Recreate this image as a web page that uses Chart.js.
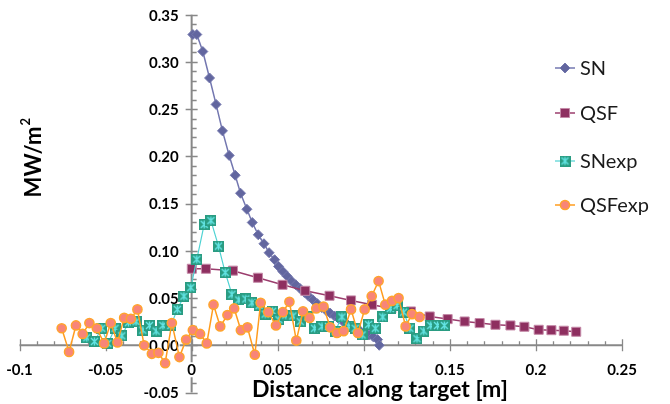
<!DOCTYPE html>
<html>
<head>
<meta charset="utf-8">
<script src="https://cdn.jsdelivr.net/npm/chart.js@4.4.0/dist/chart.umd.min.js"></script>
<style>
  html, body { margin: 0; padding: 0; background: #fff; }
</style>
</head>
<body>
<canvas id="fluxChart" width="670" height="404"></canvas>
<script>
// series
const seriesNames = ['SN', 'QSF', 'SNexp', 'QSFexp'];

const snX = [0.0007, 0.003, 0.0065, 0.0104, 0.0142, 0.0179, 0.0218, 0.0253, 0.0284, 0.0321, 0.0352, 0.0387, 0.042, 0.045, 0.0482, 0.0505, 0.053, 0.0555, 0.058, 0.0605, 0.063, 0.0655, 0.068, 0.0705, 0.073, 0.0755, 0.078, 0.0805, 0.083, 0.0855, 0.088, 0.0905, 0.093, 0.0955, 0.098, 0.1005, 0.103, 0.1055, 0.108, 0.109];
const snY = [0.329, 0.329, 0.311, 0.283, 0.255, 0.227, 0.201, 0.180, 0.161, 0.144, 0.130, 0.117, 0.1075, 0.098, 0.0906, 0.0835, 0.078, 0.073, 0.068, 0.064, 0.060, 0.056, 0.052, 0.048, 0.044, 0.040, 0.037, 0.034, 0.031, 0.028, 0.025, 0.022, 0.020, 0.018, 0.015, 0.013, 0.011, 0.009, 0.006, 0.000];

const qsfX = [0.0001, 0.0083, 0.024, 0.0385, 0.0528, 0.066, 0.0801, 0.0926, 0.1048, 0.116, 0.1274, 0.1383, 0.1487, 0.1586, 0.1673, 0.1765, 0.1852, 0.1933, 0.2016, 0.209, 0.2162, 0.2234];
const qsfY = [0.081, 0.081, 0.079, 0.0715, 0.064, 0.0577, 0.0524, 0.0475, 0.0429, 0.039, 0.0358, 0.0305, 0.0277, 0.0252, 0.0235, 0.0217, 0.021, 0.0196, 0.0164, 0.016, 0.0154, 0.0143];

const snexpX = [-0.0609, -0.0565, -0.0522, -0.0487, -0.0445, -0.0406, -0.0367, -0.0323, -0.0284, -0.0245, -0.0206, -0.0167, -0.0121, -0.0083, -0.0045, -0.0005, 0.003, 0.0073, 0.0112, 0.0156, 0.0195, 0.0234, 0.0274, 0.0315, 0.035, 0.0392, 0.0427, 0.047, 0.0507, 0.0547, 0.0588, 0.0631, 0.0675, 0.0714, 0.0757, 0.0795, 0.0834, 0.0873, 0.0912, 0.095, 0.099, 0.1028, 0.1067, 0.111, 0.1154, 0.1193, 0.1231, 0.1268, 0.1309, 0.1348, 0.1389, 0.1428, 0.1468];
const snexpY = [0.008, 0.004, 0.018, 0.002, 0.018, 0.010, 0.024, 0.025, 0.016, 0.021, 0.015, 0.021, 0.021, 0.038, 0.052, 0.061, 0.091, 0.128, 0.132, 0.105, 0.077, 0.054, 0.048, 0.049, 0.045, 0.042, 0.033, 0.036, 0.027, 0.032, 0.031, 0.025, 0.030, 0.018, 0.020, 0.020, 0.015, 0.030, 0.020, 0.018, 0.011, 0.022, 0.018, 0.030, 0.039, 0.042, 0.035, 0.018, 0.007, 0.015, 0.021, 0.021, 0.021];

const qsfexpX = [-0.0755, -0.0712, -0.0672, -0.0633, -0.0594, -0.0551, -0.0509, -0.047, -0.0431, -0.0392, -0.0353, -0.0315, -0.0276, -0.0231, -0.0193, -0.0154, -0.0115, -0.0071, -0.0032, 0.0007, 0.0049, 0.0088, 0.0127, 0.0166, 0.0208, 0.0247, 0.0286, 0.0324, 0.0367, 0.0401, 0.0445, 0.049, 0.053, 0.0568, 0.0608, 0.0647, 0.0685, 0.0724, 0.0766, 0.0805, 0.0844, 0.0883, 0.0926, 0.0966, 0.1005, 0.1046, 0.1086, 0.1125, 0.1164, 0.1202, 0.1243, 0.128, 0.1324];
const qsfexpY = [0.018, -0.007, 0.021, 0.012, 0.0235, 0.018, 0.002, 0.0235, 0.003, 0.029, 0.028, 0.038, 0.000, -0.009, -0.008, -0.019, 0.0235, -0.0125, 0.006, 0.016, 0.012, 0.002, 0.043, 0.020, 0.032, 0.039, 0.016, 0.019, -0.010, 0.045, 0.035, 0.021, 0.035, 0.046, 0.005, 0.036, 0.029, 0.039, 0.041, 0.019, 0.013, 0.015, 0.038, 0.013, 0.038, 0.052, 0.068, 0.043, 0.047, 0.050, 0.020, 0.033, 0.030];

const xTickLabels = ['-0.1', '-0.05', '0', '0.05', '0.1', '0.15', '0.2', '0.25'];
const yTickLabels = ['-0.05', '0.00', '0.05', '0.10', '0.15', '0.20', '0.25', '0.30', '0.35'];
const xTitle = 'Distance along target [m]';
const yTitle = 'MW/m';
const yTitleSup = '2';

function pts(xs, ys) {
    return xs.map(function (x, i) { return { x: x, y: ys[i] }; });
}

// square with a light asterisk, like the spreadsheet marker
function makeStarSquare() {
    var c = document.createElement('canvas');
    c.width = 11; c.height = 11;
    var g = c.getContext('2d');
    g.fillStyle = '#2a9c82';
    g.fillRect(0, 0, 11, 11);
    g.strokeStyle = '#63e4e4';
    g.lineWidth = 1.4;
    g.beginPath();
    g.moveTo(2, 2); g.lineTo(9, 9);
    g.moveTo(9, 2); g.lineTo(2, 9);
    g.moveTo(5.5, 1.5); g.lineTo(5.5, 9.5);
    g.stroke();
    return c;
}
const starSquare = makeStarSquare();

const tickFont = 'bold 15px Lato';

const axesPlugin = {
    id: 'crossAxes',
    beforeDatasetsDraw(chart) {
        const ctx = chart.ctx;
        const xs = chart.scales.x, ys = chart.scales.y;
        const x0 = xs.getPixelForValue(0), y0 = ys.getPixelForValue(0);
        ctx.save();
        ctx.strokeStyle = '#888';
        ctx.lineWidth = 2;
        ctx.beginPath();
        ctx.moveTo(xs.left, y0); ctx.lineTo(xs.right, y0);
        ctx.moveTo(x0, ys.top); ctx.lineTo(x0, ys.bottom);
        ctx.stroke();

        ctx.lineWidth = 1.3;
        ctx.beginPath();
        // minor ticks every 0.01
        for (let i = -10; i <= 25; i++) {
            const px = Math.round(xs.getPixelForValue(i / 100)) + 0.5;
            if (i % 5 === 0) { ctx.moveTo(px, y0 - 6); ctx.lineTo(px, y0 + 6); }
            else { ctx.moveTo(px, y0 - 4); ctx.lineTo(px, y0); }
        }
        for (let i = -5; i <= 35; i++) {
            const py = Math.round(ys.getPixelForValue(i / 100)) + 0.5;
            if (i % 5 === 0) { ctx.moveTo(x0 - 6, py); ctx.lineTo(x0 + 6, py); }
            else { ctx.moveTo(x0, py); ctx.lineTo(x0 + 5, py); }
        }
        ctx.stroke();

        ctx.font = tickFont;
        ctx.fillStyle = '#000';
        ctx.textBaseline = 'middle';
        ctx.textAlign = 'center';
        xTickLabels.forEach(function (l) {
            const px = xs.getPixelForValue(parseFloat(l));
            const w = ctx.measureText(l).width;
            ctx.fillStyle = '#fff';
            ctx.fillRect(px - w / 2 - 1, y0 + 17, w + 2, 15);
            ctx.fillStyle = '#000';
            ctx.fillText(l, px, y0 + 25);
        });
        ctx.textAlign = 'right';
        yTickLabels.forEach(function (l) {
            const py = ys.getPixelForValue(parseFloat(l));
            const w = ctx.measureText(l).width;
            ctx.fillStyle = '#fff';
            ctx.fillRect(x0 - 13 - w - 1, py - 7, w + 2, 15);
            ctx.fillStyle = '#000';
            ctx.fillText(l, x0 - 13, py + 1);
        });

        // titles
        ctx.font = 'bold 23px Lato';
        ctx.textAlign = 'center';
        ctx.textBaseline = 'alphabetic';
        ctx.fillText(xTitle, 380, 397);

        ctx.save();
        ctx.translate(41, 158);
        ctx.rotate(-Math.PI / 2);
        ctx.font = 'bold 22px Lato';
        ctx.textAlign = 'left';
        const tw = ctx.measureText(yTitle).width;
        ctx.fillText(yTitle, -tw / 2 - 4, 0);
        ctx.font = 'bold 13px Lato';
        ctx.fillText(yTitleSup, tw / 2 - 3, -11);
        ctx.restore();
        ctx.restore();
    }
};

const legendPlugin = {
    id: 'sideLegend',
    afterDraw(chart) {
        const ctx = chart.ctx;
        const rows = [68, 113, 161, 205];
        ctx.save();
        chart.data.datasets.forEach(function (ds, i) {
            const y = rows[i];
            ctx.strokeStyle = ds.borderColor;
            ctx.lineWidth = ds.borderWidth;
            ctx.beginPath();
            ctx.moveTo(555, y); ctx.lineTo(575, y);
            ctx.stroke();
            ctx.fillStyle = ds.pointBackgroundColor;
            ctx.strokeStyle = ds.pointBorderColor;
            ctx.lineWidth = ds.pointBorderWidth;
            Chart.helpers.drawPoint(ctx, {
                pointStyle: ds.pointStyle, radius: ds.pointRadius, rotation: 0, borderWidth: ds.pointBorderWidth
            }, 565, y);
            ctx.fillStyle = '#1a1a1a';
            ctx.font = '20px Lato';
            ctx.textAlign = 'left';
            ctx.textBaseline = 'middle';
            ctx.fillText(seriesNames[i], 580, y + 1);
        });
        ctx.restore();
    }
};

class fluxchart {
    constructor() {
        this.canvas = document.getElementById('fluxChart');
        this.draw();
    }
    draw() {
        new Chart(this.canvas, {
            type: 'scatter',
            data: {
                datasets: [{
                    label: seriesNames[0],
                    data: pts(snX, snY),
                    showLine: true,
                    borderColor: '#7377b0',
                    borderWidth: 1.5,
                    pointStyle: 'rectRot',
                    pointRadius: 5,
                    pointBackgroundColor: '#62669f',
                    pointBorderColor: '#7478ae',
                    pointBorderWidth: 1,
                    order: 4
                }, {
                    label: seriesNames[1],
                    data: pts(qsfX, qsfY),
                    showLine: true,
                    borderColor: '#9b3d6d',
                    borderWidth: 1.5,
                    pointStyle: 'rect',
                    pointRadius: 6.4,
                    pointBackgroundColor: '#8e2f60',
                    pointBorderColor: '#c58aa8',
                    pointBorderWidth: 1,
                    order: 3
                }, {
                    label: seriesNames[2],
                    data: pts(snexpX, snexpY),
                    showLine: true,
                    borderColor: '#4fd3d3',
                    borderWidth: 1.2,
                    pointStyle: starSquare,
                    pointRadius: 5,
                    pointBackgroundColor: '#2a9c82',
                    pointBorderColor: '#2a9c82',
                    pointBorderWidth: 0,
                    order: 2
                }, {
                    label: seriesNames[3],
                    data: pts(qsfexpX, qsfexpY),
                    showLine: true,
                    borderColor: '#ff9c1e',
                    borderWidth: 1.5,
                    pointStyle: 'circle',
                    pointRadius: 4.6,
                    pointBackgroundColor: '#f88578',
                    pointBorderColor: '#ffa42c',
                    pointBorderWidth: 1.5,
                    order: 1
                }]
            },
            options: {
                responsive: false,
                animation: false,
                events: [],
                layout: { padding: { left: 19.5, right: 48, top: 14.7, bottom: 11.5 } },
                scales: {
                    x: { type: 'linear', min: -0.1, max: 0.25, display: false },
                    y: { type: 'linear', min: -0.05, max: 0.35, display: false }
                },
                plugins: {
                    legend: { display: false },
                    tooltip: { enabled: false }
                }
            },
            plugins: [axesPlugin, legendPlugin]
        });
    }
}

new fluxchart();
</script>
</body>
</html>
